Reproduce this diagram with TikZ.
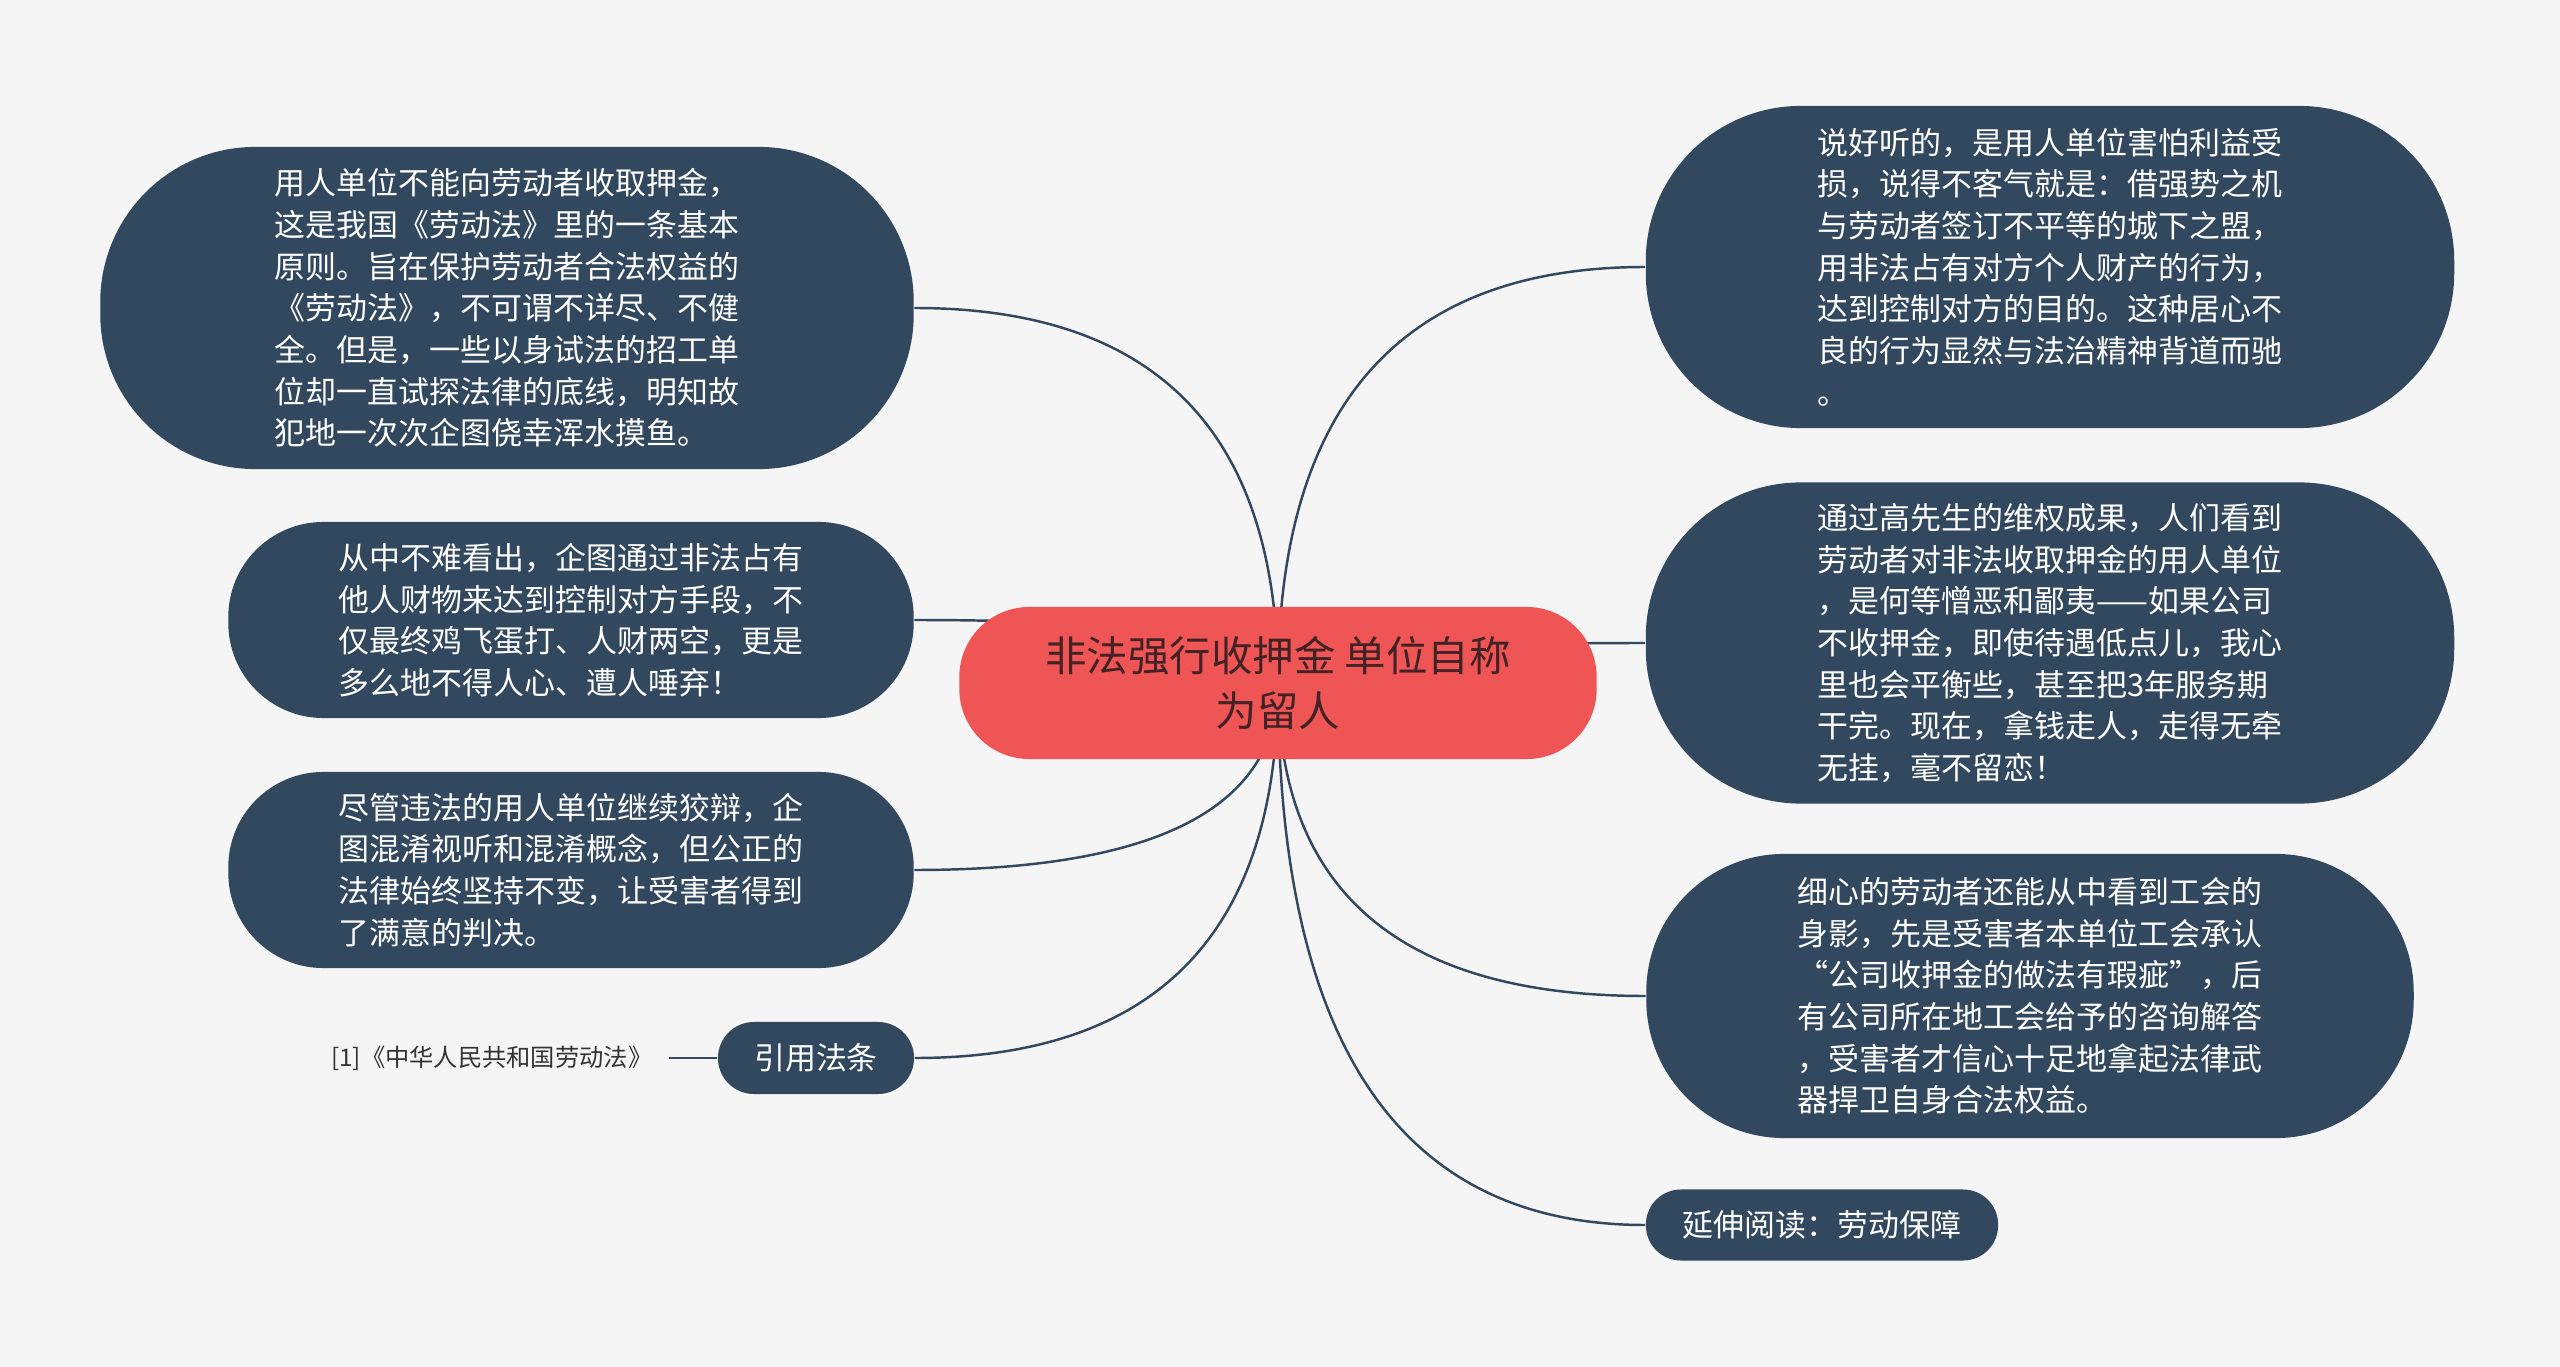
\documentclass[tikz,border=0pt]{standalone}
\usepackage{fontspec}
\usepackage{xcolor}
\usepackage{tikz}
\usetikzlibrary{backgrounds,calc}
\newfontfamily\cjkfont{Noto Sans CJK SC}
\definecolor{pagebg}{RGB}{245,245,245}
\definecolor{topicfill}{RGB}{50,72,95}
\definecolor{hubfill}{RGB}{239,85,85}
\definecolor{hubtext}{RGB}{66,34,36}
\definecolor{leaftext}{RGB}{51,51,51}
\tikzset{
  topic/.style={
    fill=topicfill,
    text=white,
    align=left,
    inner sep=0pt,
    font=\cjkfont\fontsize{8.8pt}{11.84pt}\selectfont
  },
  hubbox/.style={
    fill=hubfill,
    text=hubtext,
    align=center,
    inner sep=0pt,
    font=\cjkfont\fontsize{11.8pt}{15.4pt}\selectfont
  },
  leaf/.style={
    text=leaftext,
    inner ysep=0pt,
    inner xsep=0.16cm,
    font=\cjkfont\fontsize{6.9pt}{8pt}\selectfont
  },
  link/.style={draw=topicfill, line width=0.7pt}
}

\begin{document}
\begin{tikzpicture}[x=0.01cm, y=-0.01cm]
    \useasboundingbox (0,0) rectangle (2560,1367);

    \node[hubbox, minimum width=6.37cm, minimum height=1.52cm,
      rounded corners=0.7cm] (hub) at (1278,683)
      {非法强行收押金 单位自称\\为留人};

    % left side
    \node[topic, minimum width=8.13cm, minimum height=3.22cm,
      rounded corners=1.55cm] (l1) at (507,308)
      {用人单位不能向劳动者收取押金，\\
       这是我国《劳动法》里的一条基本\\
       原则。旨在保护劳动者合法权益的\\
       《劳动法》，不可谓不详尽、不健\\
       全。但是，一些以身试法的招工单\\
       位却一直试探法律的底线，明知故\\
       犯地一次次企图侥幸浑水摸鱼。};
    \node[topic, minimum width=6.85cm, minimum height=1.96cm,
      rounded corners=0.95cm] (l2) at (571,620)
      {从中不难看出，企图通过非法占有\\
       他人财物来达到控制对方手段，不\\
       仅最终鸡飞蛋打、人财两空，更是\\
       多么地不得人心、遭人唾弃！};
    \node[topic, minimum width=6.85cm, minimum height=1.96cm,
      rounded corners=0.95cm] (l3) at (571,870)
      {尽管违法的用人单位继续狡辩，企\\
       图混淆视听和混淆概念，但公正的\\
       法律始终坚持不变，让受害者得到\\
       了满意的判决。};
    \node[topic, align=center, minimum width=1.96cm, minimum height=0.72cm,
      rounded corners=0.36cm] (cite) at (816,1058) {引用法条};
    \node[leaf, anchor=east] (ref) at (669,1058) {[1]《中华人民共和国劳动法》};

    % right side
    \node[topic, minimum width=8.08cm, minimum height=3.22cm,
      rounded corners=1.55cm] (r1) at (2050,267)
      {说好听的，是用人单位害怕利益受\\
       损，说得不客气就是：借强势之机\\
       与劳动者签订不平等的城下之盟，\\
       用非法占有对方个人财产的行为，\\
       达到控制对方的目的。这种居心不\\
       良的行为显然与法治精神背道而驰\\
       。};
    \node[topic, minimum width=8.08cm, minimum height=3.21cm,
      rounded corners=1.55cm] (r2) at (2050,643)
      {通过高先生的维权成果，人们看到\\
       劳动者对非法收取押金的用人单位\\
       ，是何等憎恶和鄙夷——如果公司\\
       不收押金，即使待遇低点儿，我心\\
       里也会平衡些，甚至把3年服务期\\
       干完。现在，拿钱走人，走得无牵\\
       无挂，毫不留恋！};
    \node[topic, minimum width=7.67cm, minimum height=2.84cm,
      rounded corners=1.38cm] (r3) at (2030,996)
      {细心的劳动者还能从中看到工会的\\
       身影，先是受害者本单位工会承认\\
       “公司收押金的做法有瑕疵”，后\\
       有公司所在地工会给予的咨询解答\\
       ，受害者才信心十足地拿起法律武\\
       器捍卫自身合法权益。};
    \node[topic, align=center, minimum width=3.52cm, minimum height=0.71cm,
      rounded corners=0.35cm] (ext) at (1822,1225) {延伸阅读：劳动保障};

    \begin{scope}[on background layer]
    \fill[pagebg] (0,0) rectangle (2560,1367);
    \foreach \nd in {l1,l2,l3,cite} {
      \coordinate (bend) at (hub.center |- \nd.east);
      \draw[link] (hub.center) .. controls ($(hub.center)!2/3!(bend)$)
        and ($(\nd.east)!2/3!(bend)$) .. (\nd.east);
    }
    \foreach \nd in {r1,r2,r3,ext} {
      \coordinate (bend) at (hub.center |- \nd.west);
      \draw[link] (hub.center) .. controls ($(hub.center)!2/3!(bend)$)
        and ($(\nd.west)!2/3!(bend)$) .. (\nd.west);
    }
    \draw[link] (ref.east) -- (cite.west);
    \end{scope}
  \end{tikzpicture}
\end{document}
